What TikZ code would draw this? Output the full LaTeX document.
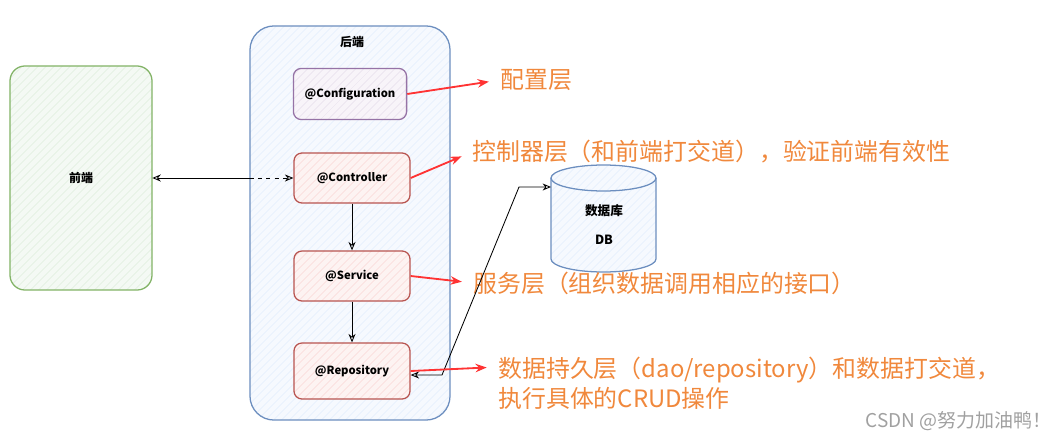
\documentclass[tikz,border=0pt]{standalone}
\usepackage{fontspec}
\setmainfont{Noto Sans CJK SC}
\usetikzlibrary{arrows.meta, patterns.meta}

\definecolor{greenline}{HTML}{82B366}
\definecolor{greenfill}{HTML}{D5E8D4}
\definecolor{blueline}{HTML}{6C8EBF}
\definecolor{bluefill}{HTML}{DAE8FC}
\definecolor{purpleline}{HTML}{9673A6}
\definecolor{purplefill}{HTML}{E1D5E7}
\definecolor{redline}{HTML}{B85450}
\definecolor{redfill}{HTML}{F8CECC}
\definecolor{notered}{HTML}{FF3333}
\definecolor{noteorange}{HTML}{F0883C}
\definecolor{markgray}{HTML}{A0A0A0}

\begin{document}
\begin{tikzpicture}[x=0.025cm, y=-0.025cm, >={Stealth[open, length=6pt, width=5pt]},
   hatch/.style 2 args={draw=#1, line width=0.9pt, preaction={fill=#2!25},
      pattern={Lines[angle=45, distance=4pt, line width=0.45pt]}, pattern color=#2},
   layer/.style={hatch={redline}{redfill}, rounded corners=0.2cm,
      minimum width=2.9cm, minimum height=1.25cm, font=\bfseries\fontsize{8}{10}\selectfont},
   flow/.style={draw=black, line width=0.6pt},
   note/.style={text=noteorange, inner sep=0pt, anchor=west, align=left, font=\fontsize{17}{21}\selectfont},
   point/.style={draw=notered, line width=1.3pt, -{Stealth[length=8pt, width=6pt]}, shorten >=8pt}]

   \useasboundingbox (0,0) rectangle (1062,440);

   \node[hatch={greenline}{greenfill}, rounded corners=0.375cm, minimum width=3.55cm, minimum height=5.6cm,
      font=\bfseries\fontsize{8.5}{10}\selectfont] (fe) at (81,178) {前端};
   \node[hatch={blueline}{bluefill}, rounded corners=0.6cm, minimum width=5cm, minimum height=9.85cm] (be) at (350,223) {};
   \node[font=\bfseries\fontsize{8.5}{10}\selectfont] (betitle) at (352,42) {后端};

   \node[layer, hatch={purpleline}{purplefill}, minimum width=2.83cm, minimum height=1.28cm] (cfg) at (350,94) {@Configuration};
   \node[layer] (ctl)  at (352,178) {@Controller};
   \node[layer] (svc)  at (352,276) {@Service};
   \node[layer, minimum height=1.4cm] (repo) at (352,371) {@Repository};

   % database cylinder
   \path[hatch={blueline}{bluefill}] (551,178) -- (551,259) arc[start angle=180, end angle=0, x radius=52.5, y radius=13]
      -- (656,178) arc[start angle=0, end angle=-180, x radius=52.5, y radius=13] -- cycle;
   \draw[blueline, line width=0.9pt] (551,178) arc[start angle=180, end angle=0, x radius=52.5, y radius=13];
   \node[font=\bfseries\fontsize{9}{10}\selectfont] (dbname) at (604,211) {数据库};
   \node[font=\bfseries\fontsize{9}{10}\selectfont] (dbtag)  at (604,240) {DB};
   \coordinate (db) at (551,187);

   \node[note] (cfgnote)  at (500,80)  {配置层};
   \node[note] (ctlnote)  at (472,152) {控制器层（和前端打交道），验证前端有效性};
   \node[note] (svcnote)  at (473,283) {服务层（组织数据调用相应的接口）};
   \node[note] (reponote) at (498,383) {数据持久层（dao/repository）和数据打交道，\\执行具体的CRUD操作};
   \node[text=markgray, anchor=east, inner sep=0pt, font=\fontsize{13.5}{15}\selectfont] (mark) at (1052,421) {CSDN @努力加油鸭！};

   \coordinate (gate) at (be.west |- ctl.west);
   \coordinate (down) at (442,375);
   \coordinate (up)   at (519,187);

   \draw[flow, <-] (fe.east |- ctl.west) -- (gate);
   \draw[flow, ->, dashed] (gate) -- (ctl.west);
   \draw[flow, ->] (ctl) -- (svc);
   \draw[flow, ->] (svc) -- (repo);
   \draw[flow, <->] (repo.east |- down) -- (down) -- (up) -- (db);

   \draw[point] (cfg.east)  -- (cfgnote.west);
   \draw[point] (ctl.east)  -- (ctlnote.west);
   \draw[point] (svc.east)  -- (svcnote.west);
   \draw[point] (repo.east) -- ([yshift=0.4cm]reponote.west);
\end{tikzpicture}
\end{document}
